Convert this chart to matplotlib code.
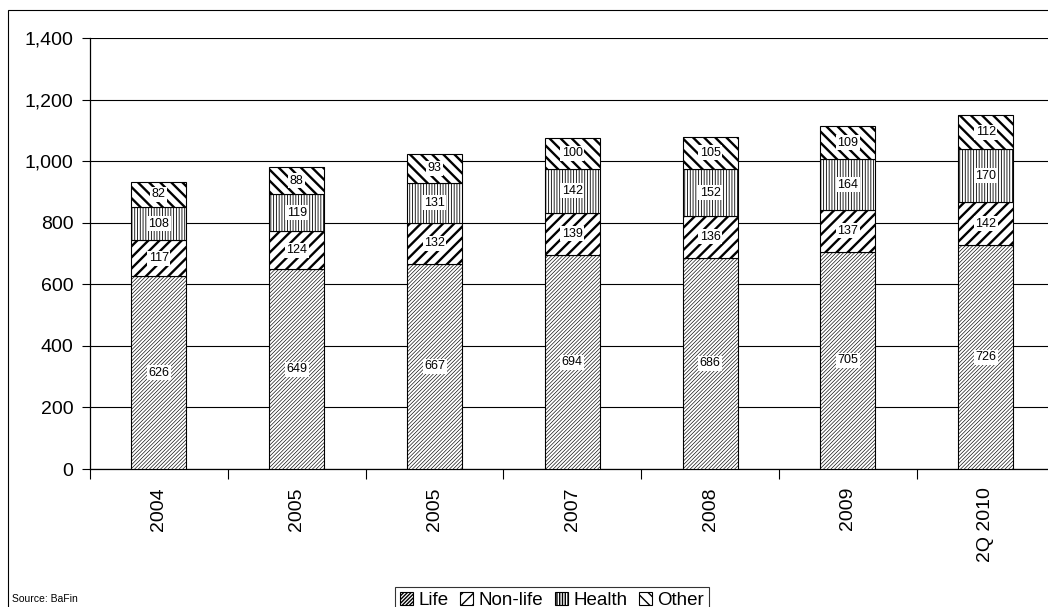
import matplotlib
matplotlib.use("Agg")
import matplotlib.pyplot as plt
from matplotlib.patches import Rectangle
import numpy as np

plt.rcParams['font.family'] = ['Liberation Sans', 'DejaVu Sans']

categories = ["2004", "2005", "2005", "2007", "2008", "2009", "2Q 2010"]
life = [626, 649, 667, 694, 686, 705, 726]
non_life = [117, 124, 132, 139, 136, 137, 142]
health = [108, 119, 131, 142, 152, 164, 170]
other = [82, 88, 93, 100, 105, 109, 112]

series = [
    ("Life", life, "/////////", 0.45),
    ("Non-life", non_life, "///", 1.7),
    ("Health", health, "||||||", 0.6),
    ("Other", other, "\\\\\\", 1.7),
]

W, H = 1048, 607
fig = plt.figure(figsize=(W / 100, H / 100), dpi=100)
ax = fig.add_axes([90 / W, 1 - 469 / H, 964.6 / W, 431 / H])

x = np.arange(len(categories))
bottom = np.zeros(len(categories))
handles = []
for name, vals, hatch, hlw in series:
    vals = np.array(vals, dtype=float)
    with plt.rc_context({'hatch.linewidth': hlw, 'hatch.color': 'black'}):
        bars = ax.bar(x, vals, width=0.4, bottom=bottom, color='white',
                      edgecolor='black', linewidth=0.8, hatch=hatch,
                      label=name, zorder=3)
    for b in bars:
        if hasattr(b, 'set_hatch_linewidth'):
            b.set_hatch_linewidth(hlw)
    handles.append(bars)
    for xi, b0, v in zip(x, bottom, vals):
        ax.text(xi, b0 + v / 2, f"{int(v)}", ha='center', va='center',
                fontsize=9, zorder=5,
                bbox=dict(boxstyle='square,pad=0.12', fc='white', ec='none'))
    bottom += vals

ax.set_xlim(-0.5, len(categories) - 0.5)
ax.set_ylim(0, 1400)
ax.set_yticks(np.arange(0, 1401, 200))
ax.set_yticklabels([f"{v:,}" for v in range(0, 1401, 200)], fontsize=14)
ax.yaxis.grid(True, color='black', linewidth=0.8, zorder=0)
ax.set_axisbelow(True)

ax.set_xticks(x)
ax.set_xticklabels(categories, rotation=90, fontsize=14)
ax.set_xticks(np.arange(-0.5, len(categories), 1), minor=True)
ax.tick_params(axis='x', which='major', length=0, pad=13)
ax.tick_params(axis='x', which='minor', length=7, width=0.8, direction='out')
ax.tick_params(axis='y', length=6, width=0.8, direction='out', pad=6)

for s in ['top', 'right']:
    ax.spines[s].set_visible(False)
for s in ['left', 'bottom']:
    ax.spines[s].set_linewidth(0.9)

# Outer chart frame
fig.add_artist(Rectangle((8 / W, -0.1), 1.2, 1 - 10 / H + 0.1,
                         transform=fig.transFigure, fill=False,
                         edgecolor='black', linewidth=0.8))

fig.text(12 / W, 1 - 599 / H, "Source: BaFin", fontsize=7.5, va='center', ha='left')

leg = fig.legend(handles=handles, labels=[s[0] for s in series],
                 loc='upper center', bbox_to_anchor=(552 / W, 1 - 587 / H),
                 ncol=4, fontsize=13.5, frameon=True, fancybox=False,
                 edgecolor='black', handlelength=0.7, handleheight=0.7,
                 handletextpad=0.3, columnspacing=0.6, borderpad=0.25,
                 borderaxespad=0)
leg.get_frame().set_linewidth(0.8)

fig.savefig("out.png", dpi=100)
